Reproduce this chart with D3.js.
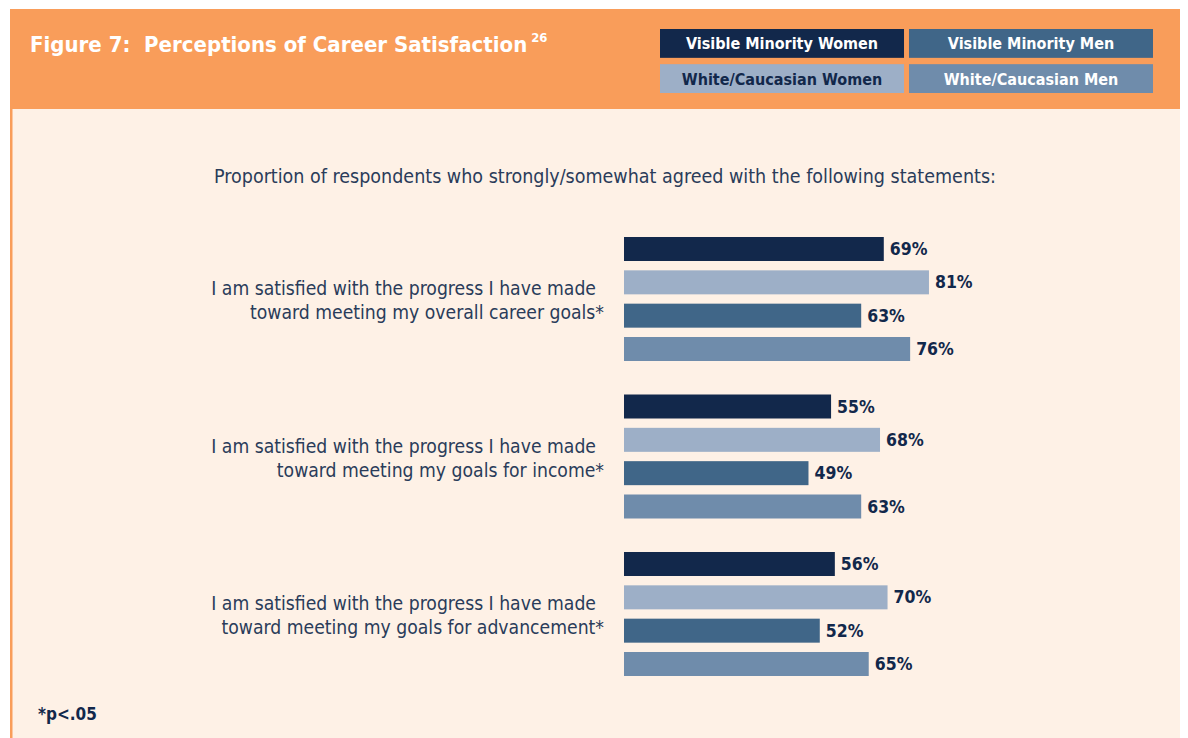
<!DOCTYPE html>
<html>
<head>
<meta charset="utf-8">
<script src="https://cdn.jsdelivr.net/npm/d3@7"></script>
<style>
  body { margin: 0; background: #fff; }
  svg text { font-family: "Liberation Sans Narrow", "DejaVu Sans Condensed", Roboto, sans-serif; }
</style>
</head>
<body>
<div id="chart"></div>
<script>
// Data
const statements = [
    ["I am satisfied with the progress I have made", "toward meeting my overall career goals*"],
    ["I am satisfied with the progress I have made", "toward meeting my goals for income*"],
    ["I am satisfied with the progress I have made", "toward meeting my goals for advancement*"]
];
const groups = ["Visible Minority Women", "White/Caucasian Women", "Visible Minority Men", "White/Caucasian Men"];
const visMinWomen = [69, 55, 56];
const whiteWomen = [81, 68, 70];
const visMinMen = [63, 49, 52];
const whiteMen = [76, 63, 65];
const legendOrder = ["Visible Minority Women", "Visible Minority Men", "White/Caucasian Women", "White/Caucasian Men"];

const colors = {
    "Visible Minority Women": "#12284b",
    "White/Caucasian Women": "#9dafc7",
    "Visible Minority Men": "#406688",
    "White/Caucasian Men": "#6f8cab"
};
const legendText = {
    "Visible Minority Women": "#ffffff",
    "White/Caucasian Women": "#12284b",
    "Visible Minority Men": "#ffffff",
    "White/Caucasian Men": "#ffffff"
};

const W = 1188, H = 738;
const svg = d3.select("#chart").append("svg")
    .attr("width", W)
    .attr("height", H);

// Background panels
svg.append("rect").attr("x", 10).attr("y", 9).attr("width", 1170).attr("height", H - 9).attr("fill", "#fef1e6");
svg.append("rect").attr("x", 10).attr("y", 9).attr("width", 1170).attr("height", 100).attr("fill", "#f99d5a");
svg.append("rect").attr("x", 10).attr("y", 109).attr("width", 2.5).attr("height", H - 109).attr("fill", "#f99d5a");

// Title
const title = svg.append("text")
    .attr("x", 30)
    .attr("y", 52)
    .attr("fill", "#ffffff")
    .attr("font-size", 22)
    .attr("font-weight", "bold")
    .style("white-space", "pre")
    .text("Figure 7:  Perceptions of Career Satisfaction");
title.append("tspan")
    .attr("font-size", 13)
    .attr("dx", 4)
    .attr("dy", -10)
    .text("26");

// Legend
const legendX = d3.scaleBand().domain([0, 1]).range([660, 1153]).paddingInner(0.02);
const legendY = d3.scaleBand().domain([0, 1]).range([29, 93]).paddingInner(0.18);
const leg = svg.selectAll(".legend")
    .data(legendOrder)
    .join("g")
    .attr("class", "legend")
    .attr("transform", (d, i) => `translate(${legendX(i % 2)},${legendY(Math.floor(i / 2))})`);
leg.append("rect")
    .attr("width", legendX.bandwidth())
    .attr("height", legendY.bandwidth())
    .attr("fill", d => colors[d]);
leg.append("text")
    .attr("x", legendX.bandwidth() / 2)
    .attr("y", legendY.bandwidth() / 2 + 6)
    .attr("text-anchor", "middle")
    .attr("font-size", 16)
    .attr("font-weight", "bold")
    .attr("fill", d => legendText[d])
    .text(d => d);

// Subtitle
svg.append("text")
    .attr("x", 605)
    .attr("y", 183)
    .attr("text-anchor", "middle")
    .attr("font-size", 19.5)
    .attr("fill", "#2a3c5a")
    .text("Proportion of respondents who strongly/somewhat agreed with the following statements:");

// Scales
const x = d3.scaleLinear().domain([0, 100]).range([624, 624 + 376.5]);
const y0 = d3.scaleBand().domain(d3.range(statements.length)).range([237, 237 + 157.5 * 3]);
const y1 = d3.scaleBand().domain(groups).range([0, 124]).paddingInner(0.28);

const seriesValues = {
    "Visible Minority Women": visMinWomen,
    "White/Caucasian Women": whiteWomen,
    "Visible Minority Men": visMinMen,
    "White/Caucasian Men": whiteMen
};

const rows = [];
statements.forEach((s, i) => {
    groups.forEach(g => rows.push({ stmt: i, group: g, value: seriesValues[g][i] }));
});

svg.selectAll(".bar")
    .data(rows)
    .join("rect")
    .attr("class", "bar")
    .attr("x", x(0))
    .attr("y", d => y0(d.stmt) + y1(d.group))
    .attr("width", d => x(d.value) - x(0))
    .attr("height", y1.bandwidth())
    .attr("fill", d => colors[d.group]);

svg.selectAll(".val")
    .data(rows)
    .join("text")
    .attr("class", "val")
    .attr("x", d => x(d.value) + 6)
    .attr("y", d => y0(d.stmt) + y1(d.group) + y1.bandwidth() / 2 + 6)
    .attr("font-size", 17.5)
    .attr("font-weight", "bold")
    .attr("fill", "#12284b")
    .text(d => d.value + "%");

// Category labels
const cat = svg.selectAll(".cat")
    .data(statements)
    .join("text")
    .attr("class", "cat")
    .attr("text-anchor", "end")
    .attr("font-size", 19.2)
    .attr("fill", "#2a3c5a");
cat.append("tspan")
    .attr("x", 596)
    .attr("y", (d, i) => y0(i) + 58)
    .text(d => d[0]);
cat.append("tspan")
    .attr("x", 604)
    .attr("y", (d, i) => y0(i) + 82)
    .text(d => d[1]);

// Footnote
svg.append("text")
    .attr("x", 38)
    .attr("y", 720)
    .attr("font-size", 17)
    .attr("font-weight", "bold")
    .attr("fill", "#12284b")
    .text("*p<.05");
</script>
</body>
</html>
